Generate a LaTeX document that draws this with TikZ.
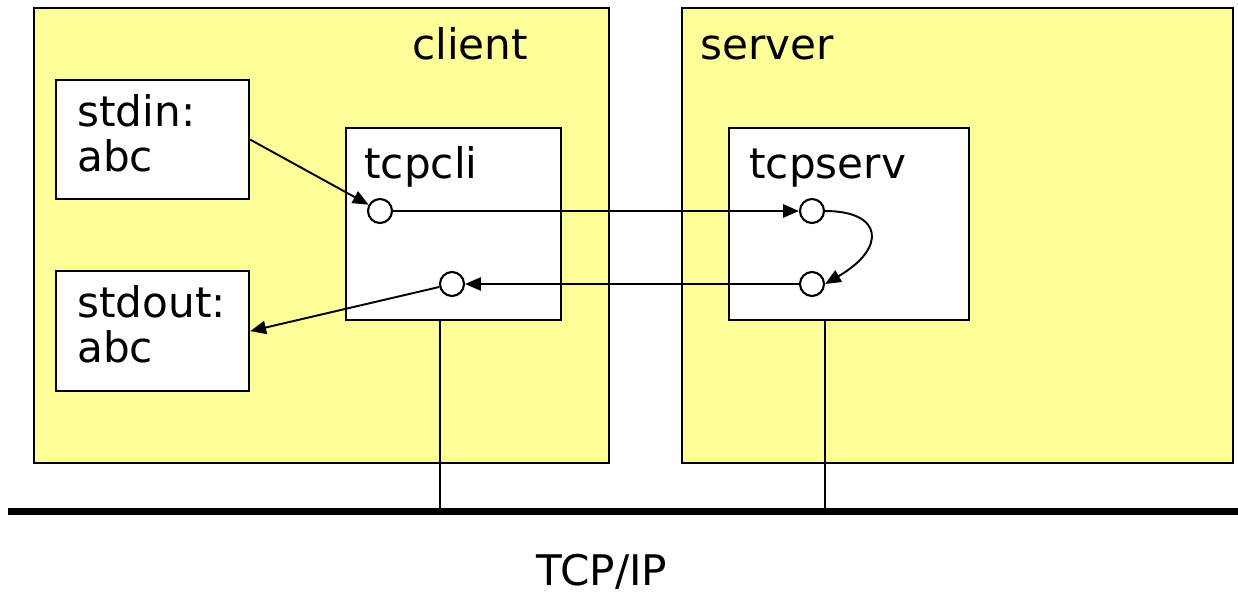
\documentclass[tikz,border=0pt]{standalone}
\usepackage{fontspec}
\setmainfont{DejaVu Sans}
\usetikzlibrary{arrows.meta,positioning}

\definecolor{hostyellow}{RGB}{255,255,153}

\begin{document}
\begin{tikzpicture}[x=0.02cm, y=-0.02cm,
    host/.style={draw, fill=hostyellow, line width=1.3pt, anchor=north west, inner sep=0pt},
    proc/.style={draw, fill=white, line width=1.3pt, anchor=north west, inner sep=0pt},
    port/.style={draw, circle, fill=white, line width=1.2pt, minimum size=0.48cm, inner sep=0pt},
    txt/.style={anchor=base west, inner sep=0pt, align=left, font=\fontsize{24pt}{25.5pt}\selectfont},
    arrow/.style={-{Triangle[length=9pt,width=7.5pt]}, line width=1.1pt},
    wire/.style={line width=1.3pt}
]
    \useasboundingbox (0,0) rectangle (1238,595);

    % the two hosts
    \node[host, minimum width=11.5cm, minimum height=9.1cm] (client) at (33,7) {};
    \node[host, minimum width=11.02cm, minimum height=9.1cm] (server) at (681,7) {};
    \node[txt] (clientlbl) at (412,59) {client};
    \node[txt] (serverlbl) at (700,59) {server};

    % terminal and processes
    \node[proc, minimum width=3.86cm, minimum height=2.38cm] (stdin) at (55,79) {};
    \node[proc, minimum width=3.86cm, minimum height=2.4cm] (stdout) at (55,270) {};
    \node[proc, minimum width=4.3cm, minimum height=3.84cm] (tcpcli) at (345,127) {};
    \node[proc, minimum width=4.8cm, minimum height=3.84cm] (tcpserv) at (728,127) {};

    % multi-line labels sit on the baseline of their last line
    \node[txt] (stdinlbl) at (77,171) {stdin:\\abc};
    \node[txt] (stdoutlbl) at (77,362) {stdout:\\abc};
    \node[txt] (tcpclilbl) at (364,178) {tcpcli};
    \node[txt] (tcpservlbl) at (749,178) {tcpserv};

    % sockets
    \node[port] (cout) at (380,211) {};
    \node[port] (cin) at (452,284) {};
    \node[port] (sin) at (812,211) {};
    \node[port] (sout) at (812,284) {};

    \draw[arrow] (stdin.east) -- (cout);
    \draw[arrow] (cout) -- (sin);
    \draw[arrow] (sin.east) .. controls +(58,0) and +(62,-36) .. (sout.east);
    \draw[arrow] (sout) -- (cin);
    \draw[arrow] (cin) -- (stdout.east);

    % network
    \coordinate (busl) at (8,511.5);
    \coordinate (busr) at (1238,511.5);
    \coordinate (tapc) at (440,511.5);
    \coordinate (taps) at (825,511.5);
    \draw[line width=4.4pt] (busl) -- (busr);
    \draw[wire] (tapc |- tcpcli.south) -- (tapc);
    \draw[wire] (taps |- tcpserv.south) -- (taps);
    \node[txt, anchor=base] (netlbl) at (602,585) {TCP/IP};
\end{tikzpicture}
\end{document}
